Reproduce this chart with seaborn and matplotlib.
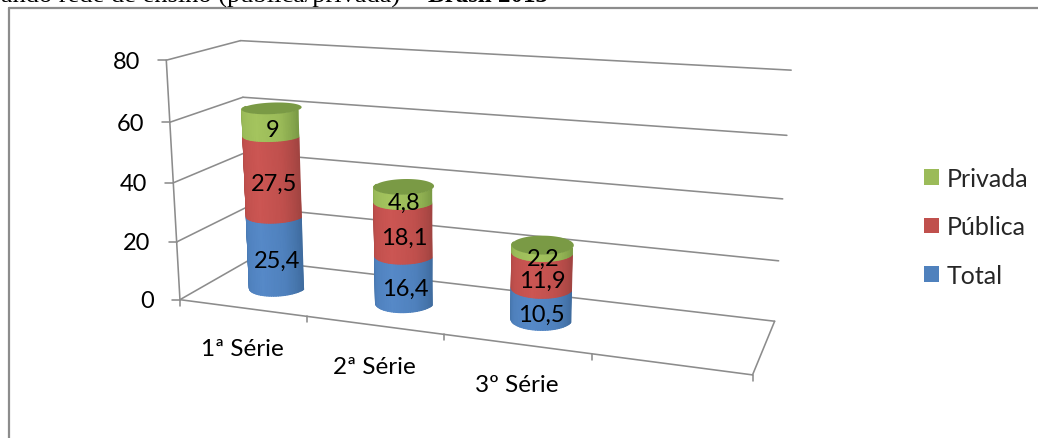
import matplotlib.pyplot as plt
import numpy as np
import pandas as pd
import seaborn as sns
from matplotlib.patches import Patch

categories = ['1ª Série', '2ª Série', '3º Série']
total = [25.4, 16.4, 10.5]
publica = [27.5, 18.1, 11.9]
privada = [9, 4.8, 2.2]
series_names = ['Total', 'Pública', 'Privada']
y_ticks = [0, 20, 40, 60, 80]
n_slots = 4
title_start = 'ando rede de ensino (pública/privada) – '
title_end = 'Brasil 2013'

base_colors = ['#4F81BD', '#C0504D', '#9BBB59']
dark_colors = ['#3F6C9F', '#A14441', '#7A9A45']
light_colors = ['#5689C8', '#CC5653', '#A4C45E']
line_color = '#8C8C8C'

sns.set_theme(style='white')
plt.rcParams['font.family'] = ['Lato', 'DejaVu Sans']

# camera fitted on the frame of the chart: (slot, depth, value) -> pixel
world = np.array([
    (0, 0, 0), (0, 0, 20), (0, 0, 40), (0, 0, 60), (0, 0, 80),
    (0, 1, 0), (0, 1, 60), (0, 1, 80),
    (4, 1, 0), (4, 1, 20), (4, 1, 40), (4, 1, 60), (4, 1, 80),
    (1, 0, 0), (2, 0, 0), (3, 0, 0), (4, 0, 0),
], dtype=float)
pixel = np.array([
    (181, 301), (177.5, 243), (173, 183.5), (168.5, 122.7), (165.7, 61),
    (248, 260), (243, 99), (242, 42),
    (775, 322), (778.7, 262), (783, 200), (786.7, 136), (791, 71),
    (307.7, 317.6), (444, 335.5), (591.7, 355), (752, 376),
], dtype=float)


def fit_camera(world, pixel):
    rows, rhs = [], []
    for (x, d, v), (u, w) in zip(world, pixel):
        rows.append([x, d, v, 1, 0, 0, 0, 0, -u * x, -u * d, -u * v])
        rhs.append(u)
        rows.append([0, 0, 0, 0, x, d, v, 1, -w * x, -w * d, -w * v])
        rhs.append(w)
    sol = np.linalg.lstsq(np.array(rows), np.array(rhs), rcond=None)[0]
    return np.append(sol, 1).reshape(3, 4)


camera = fit_camera(world, pixel)


def project(x, d, v):
    x, d, v = np.broadcast_arrays(x, d, v)
    pts = np.stack([x, d, v, np.ones_like(x, dtype=float)], axis=-1)
    out = pts @ camera.T
    return out[..., 0] / out[..., 2], out[..., 1] / out[..., 2]


def draw_line(ax, p0, p1, lw=1.15, color=line_color):
    sns.lineplot(x=[p0[0], p1[0]], y=[p0[1], p1[1]], ax=ax, color=color,
                 linewidth=lw, sort=False, estimator=None, errorbar=None)


fig = plt.figure(figsize=(10.38, 4.39), dpi=100)
ax = fig.add_axes([0, 0, 1, 1])
ax.set_xlim(0, 1038)
ax.set_ylim(439, 0)
ax.axis('off')

# page text and chart border
ax.text(1, 2.5, title_start, family='Liberation Serif', fontsize=19, color='black', va='baseline')
ax.text(428, 2.5, title_end, family='Liberation Serif', fontsize=18, weight='bold', color='black', va='baseline')
draw_line(ax, (8.5, 8.5), (1038, 8.5), lw=1.6)
draw_line(ax, (8.5, 8.5), (8.5, 439), lw=1.6)

# walls and floor
for v in y_ticks:
    draw_line(ax, project(0, 0, v), project(0, 1, v))
    draw_line(ax, project(0, 1, v), project(n_slots, 1, v))
    fx, fy = project(0, 0, v)
    draw_line(ax, (fx - 8, fy), (fx, fy))
    ax.text(fx - 26, fy + 1, str(v), ha='right', va='center', fontsize=17, color='black')
draw_line(ax, project(0, 0, 0), project(0, 0, y_ticks[-1]))
draw_line(ax, project(0, 0, 0), project(n_slots, 0, 0))
draw_line(ax, project(n_slots, 0, 0), project(n_slots, 1, 0))
for i in range(n_slots + 1):
    fx, fy = project(i, 0, 0)
    draw_line(ax, (fx, fy), (fx, fy + 6))
for i, cat in enumerate(categories):
    fx, fy = project(i + 0.5, 0, 0)
    ax.text(fx, fy + 41, cat, ha='center', va='center', fontsize=17.5, color='black')

# stacked cylinders
df = pd.DataFrame({'Total': total, 'Pública': publica, 'Privada': privada}, index=categories)
radius_x, radius_d = 0.205, 0.22
front = np.linspace(np.pi, 2 * np.pi, 40)
cap = np.linspace(0, 2 * np.pi, 80)
for i, cat in enumerate(categories):
    xc = i + 0.515
    bottom = 0
    for k, name in enumerate(series_names):
        val = df.loc[cat, name]
        top = bottom + val
        ring_x = xc + radius_x * np.cos(front)
        ring_d = 0.5 + radius_d * np.sin(front)
        levels = np.array([bottom, top])[:, None]
        X, Y = project(ring_x[None, :], ring_d[None, :], levels)
        shade = np.tile(np.linspace(0, 1, front.size), (2, 1))
        cmap = sns.blend_palette([dark_colors[k], base_colors[k], light_colors[k], base_colors[k], dark_colors[k]],
                                 n_colors=64, as_cmap=True)
        ax.pcolormesh(X, Y, shade, cmap=cmap, shading='gouraud', zorder=3)
        bottom = top
    cx, cy = project(xc + radius_x * np.cos(cap), 0.5 + radius_d * np.sin(cap), bottom)
    ax.fill(cx, cy, color=dark_colors[2], lw=0, zorder=4)
    bottom = 0
    for name in series_names:
        val = df.loc[cat, name]
        lx, _ = project(xc, 0.5, bottom + val / 2)
        _, ly = project(xc, 0.36, bottom + val / 2)
        ax.text(lx, ly + 4, f'{val:g}'.replace('.', ','), ha='center', va='center', fontsize=17,
                color='black', zorder=5)
        bottom += val

# legend
handles = [Patch(facecolor=c, edgecolor='none', label=n) for c, n in zip(base_colors[::-1], series_names[::-1])]
ax.legend(handles=handles, loc='center left', bbox_to_anchor=(0.890, 0.481), frameon=False, fontsize=18,
          handlelength=0.6, handleheight=0.6, handletextpad=0.3, labelspacing=1.02, borderpad=0, borderaxespad=0)

fig.savefig('out.png', dpi=100)
